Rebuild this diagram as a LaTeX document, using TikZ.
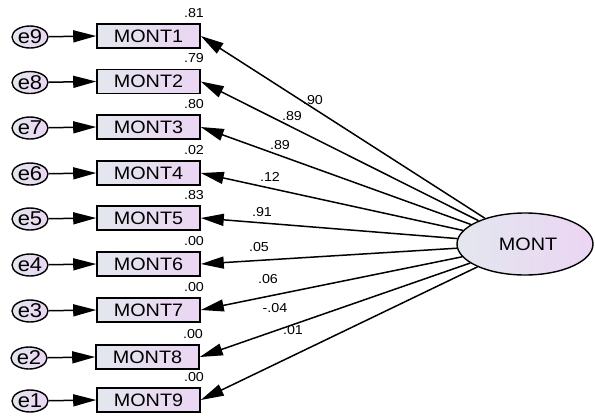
\documentclass[tikz,border=0pt]{standalone}
\usepackage{fontspec}
\newfontfamily\amosfont[FakeStretch=1.1]{Liberation Sans}
\usetikzlibrary{arrows.meta,shapes.geometric}
\definecolor{shadeL}{HTML}{E3E7EE}
\definecolor{shadeR}{HTML}{EBD5F3}
\begin{document}
\begin{tikzpicture}[x=1pt,y=-1pt,
  obs/.style={draw=black, line width=1.6pt, rectangle, minimum width=103pt,
    minimum height=24pt, inner sep=0pt, left color=shadeL, right color=shadeR,
    font=\amosfont\fontsize{18}{18}\selectfont},
  err/.style={draw=black, line width=1.4pt, ellipse, minimum width=36pt,
    minimum height=22pt, inner sep=0pt, left color=shadeL, right color=shadeR,
    font=\amosfont\fontsize{20}{20}\selectfont},
  lat/.style={draw=black, line width=1.4pt, ellipse, minimum width=136pt,
    minimum height=62pt, inner sep=0pt, left color=shadeL, right color=shadeR,
    font=\amosfont\fontsize{18}{18}\selectfont},
  loadarrow/.style={line width=1.5pt, -{Triangle[length=23pt,width=12pt]}},
  num/.style={font=\amosfont\fontsize{13}{13}\selectfont, inner sep=0pt}
]
\useasboundingbox (0,0) rectangle (595,416);

% latent factor
\node[lat] (mont) at (525,244) {\hspace*{6pt}MONT};

% indicators, their error terms and squared multiple correlations
\foreach \i/\y/\e/\r/\dx in {1/36/9/.81/0, 2/81.5/8/.79/0, 3/127/7/.80/0,
    4/173/6/.02/0, 5/218/5/.83/0, 6/264/4/.00/0, 7/310/3/.00/0,
    8/357/2/.00/-1, 9/400/1/.00/0} {
  \node[obs] (m\i) at (148.5+\dx,\y) {MONT\i};
  \node[err] (e\e) at (30+\dx,\y+1) {e\e};
  \draw[loadarrow] (e\e) -- (m\i.west);
  \node[num] (r\i) at (194+\dx,\y-23) {\r};
}

% standardized loadings
\foreach \i/\lx/\ly/\w in {1/313/100/.90, 2/292/116/.89, 3/280/145/.89,
    4/270/177/.12, 5/262/212/.91, 6/259/247/.05, 7/268/279/.06,
    8/275/308/-.04, 9/293/330/.01} {
  \draw[loadarrow] (mont) -- (m\i.east);
  \node[num] (w\i) at (\lx,\ly) {\w};
}
\end{tikzpicture}
\end{document}
